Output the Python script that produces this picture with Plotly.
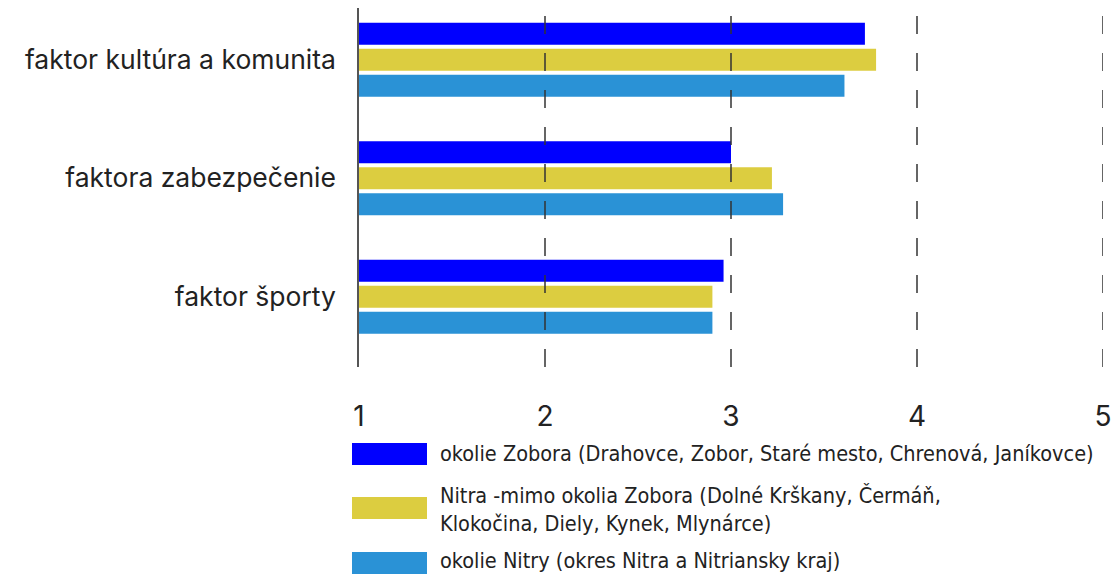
import plotly.graph_objects as go

# kategórie (zhora nadol)
factors = ["faktor kultúra a komunita", "faktora zabezpečenie", "faktor športy"]

series_names = [
    "okolie Zobora (Drahovce, Zobor, Staré mesto, Chrenová, Janíkovce)",
    "Nitra -mimo okolia Zobora (Dolné Krškany, Čermáň,<br>Klokočina, Diely, Kynek, Mlynárce)",
    "okolie Nitry (okres Nitra a Nitriansky kraj)",
]
zobor_vals = [3.72, 3.00, 2.96]
nitra_vals = [3.78, 3.22, 2.90]
okolie_vals = [3.61, 3.28, 2.90]
colors = ["#0000ff", "#dccd40", "#2a92d6"]

x_ticks = [1, 2, 3, 4, 5]

W, H = 1112, 576
L, R, T, B = 359, 9, 8, 576 - 367
pw, ph = W - L - R, H - T - B


def px(x):
    return (x - L) / pw


def py(y):
    return (H - B - y) / ph


fig = go.Figure()

for name, vals, col in zip(series_names, [zobor_vals, nitra_vals, okolie_vals], colors):
    fig.add_trace(
        go.Bar(
            y=factors,
            x=[v - 1 for v in vals],
            base=1,
            orientation="h",
            name=name,
            marker=dict(color=col, line=dict(width=0)),
            showlegend=False,
        )
    )

# prerušované mriežky nad stĺpcami
for t in x_ticks[1:]:
    fig.add_shape(
        type="line", xref="x", yref="paper", x0=t, x1=t, y0=0, y1=1,
        line=dict(color="#333333", width=1.5, dash="18px,19px"), layer="above",
    )

# vlastná legenda
legend_rows = [(443, 465, 454), (497, 519, 509), (552, 574, 561)]
for (y0, y1, yt), name, col in zip(legend_rows, series_names, colors):
    fig.add_shape(
        type="rect", xref="paper", yref="paper",
        x0=px(352), x1=px(427), y0=py(y1), y1=py(y0),
        fillcolor=col, line=dict(width=0),
    )
    fig.add_annotation(
        xref="paper", yref="paper", x=px(438), y=py(yt),
        text=name, showarrow=False, xanchor="left", yanchor="middle", align="left",
        font=dict(family="Liberation Sans Narrow, DejaVu Sans Condensed, Roboto", size=21.5, color="#222222"),
    )

fig.update_layout(
    width=W,
    height=H,
    margin=dict(l=L, r=R, t=T, b=B, autoexpand=False),
    plot_bgcolor="white",
    paper_bgcolor="white",
    barmode="group",
    bargap=0.342,
    bargroupgap=0.154,
    font=dict(family="Inter, Lato, sans-serif", color="#222222"),
    xaxis=dict(
        range=[1, 5],
        tickvals=x_ticks,
        showgrid=False,
        zeroline=False,
        automargin=False,
        ticks="",
        ticklabelstandoff=30,
        tickfont=dict(size=28, color="#222222"),
    ),
    yaxis=dict(
        range=[2.593, -0.436],
        showgrid=False,
        showline=True,
        automargin=False,
        linecolor="#555555",
        linewidth=1.5,
        ticks="",
        ticklabelstandoff=16,
        tickfont=dict(size=26.5, color="#222222"),
    ),
)

# bez okraja stránky, aby graf zaplnil celé okno
fig.write_html(
    "out.html",
    config={"displayModeBar": False},
    post_script="document.body.style.margin='0';document.body.style.overflow='hidden';",
)
